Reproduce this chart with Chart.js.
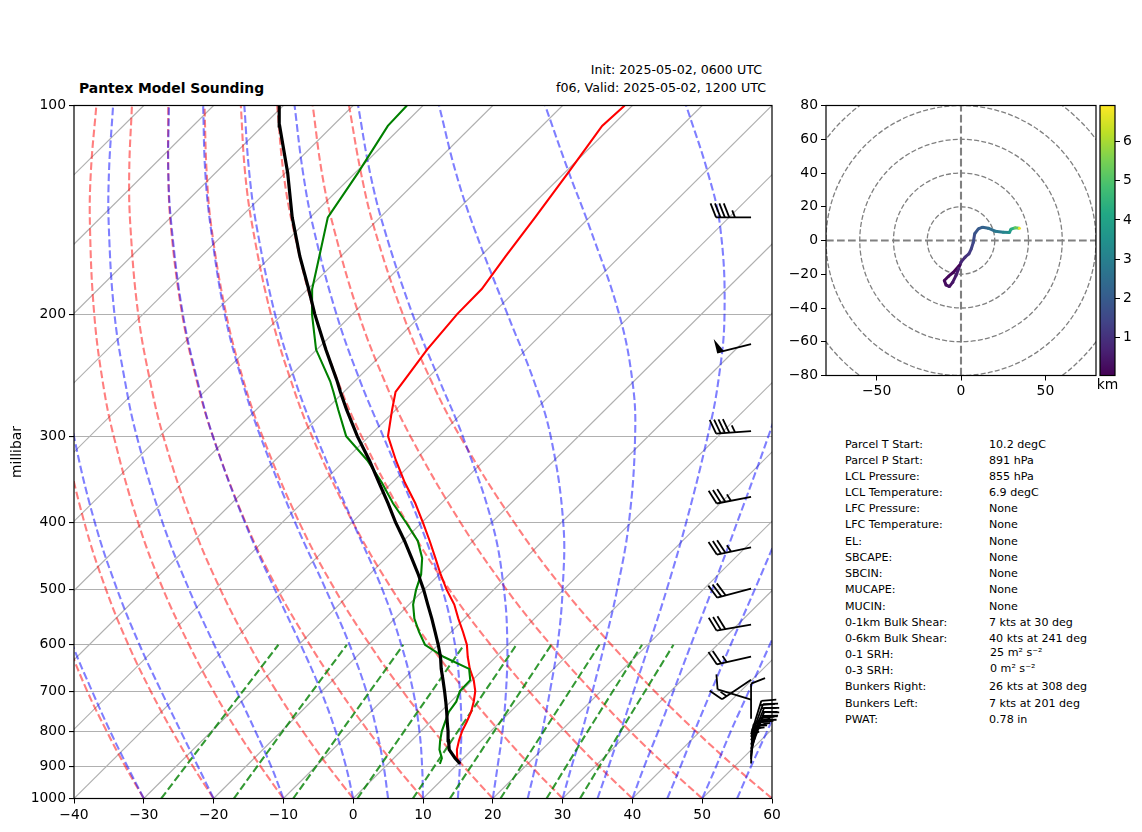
<!DOCTYPE html>
<html>
<head>
<meta charset="utf-8">
<script src="https://cdn.jsdelivr.net/npm/chart.js@4"></script>
<style>
    body { margin: 0; background: #fff; font-family: "DejaVu Sans"; color: #000; width: 1142px; height: 832px; overflow: hidden; position: relative; }
    .box { position: absolute; }
    .txt { position: absolute; white-space: nowrap; line-height: 14px; }
    .stat { font-size: 11.1px; }
</style>
</head>
<body>
<div class="txt" style="left:79px;top:81px;font-size:13.9px;font-weight:bold">Pantex Model Sounding</div>
<div class="txt" style="right:380px;top:63px;font-size:12.65px">Init: 2025-05-02, 0600 UTC</div>
<div class="txt" style="right:376px;top:81px;font-size:12.65px">f06, Valid: 2025-05-02, 1200 UTC</div>
<div class="box" style="left:0;top:0"><canvas id="skew" width="790" height="832"></canvas></div>
<div class="box" style="left:780px;top:0"><canvas id="hodo" width="320" height="410"></canvas></div>
<div class="box" style="left:1085px;top:0"><canvas id="cbar" width="57" height="410"></canvas></div>
<div id="stats"></div>

<script>
// sounding
const pressure = [891,875,850,825,800,775,750,725,700,675,650,625,600,575,550,525,500,475,450,425,400,375,350,325,300,275,259,250,225,200,184,165,145,125,107,100];
const temperature = [10.3,9.1,7.8,6.8,5.9,5.2,4.4,3.3,2.0,0.2,-2.0,-4.0,-5.9,-8.3,-10.9,-13.5,-16.7,-19.8,-22.9,-26.2,-29.8,-33.7,-38.2,-42.7,-47.3,-50.5,-52.6,-53.0,-54.2,-55.0,-55.1,-56.4,-57.8,-59.5,-61.4,-61.1];
const dewpoint = [7.4,6.9,5.3,4.1,3.0,2.1,1.2,0.8,-0.2,-0.3,-2.1,-7.4,-11.9,-14.6,-17.2,-19.4,-21.1,-22.6,-24.8,-27.9,-32.2,-36.9,-41.5,-46.8,-53.3,-58.2,-61.5,-63.5,-70.1,-75.8,-79.4,-83.1,-87.5,-89.6,-92.1,-92.3];
const parcel = [10.3,8.8,6.7,5.3,3.9,2.4,0.9,-0.7,-2.4,-4.2,-6.1,-7.9,-10.0,-12.3,-14.7,-17.3,-20.0,-23.0,-26.3,-29.8,-33.7,-37.6,-41.9,-46.5,-51.7,-57.0,-60.5,-62.5,-68.7,-75.4,-79.9,-85.9,-92.6,-99.7,-107.6,-110.6];

// wind barbs
const windPressure = [145,221,295,367,434,498,561,624,674,720,767,808,815,824,836,848,858,870,878,890];
const windSpeed = [45,50,45,35,35,30,30,25,15,10,10,20,20,20,25,25,25,20,15,15];
const windDir = [270,256,266,259,258,255,260,257,236,287,360,17,20,22,22,20,14,8,4,2];
const barbColumn = 57;

// background curves
const curveLevels = [1000,900,800,700,600,500,400,300,250,200,150,125,100];
const dryAdiabats = [
    [-30.0,-37.2,-45.0,-53.6,-63.0,-73.7,-86.0,-100.8,-109.5,-119.6,-131.7,-138.9,-147.2],
    [-20.0,-27.5,-35.6,-44.5,-54.4,-65.5,-78.3,-93.7,-102.8,-113.3,-125.9,-133.4,-142.0],
    [-10.0,-17.8,-26.3,-35.5,-45.7,-57.3,-70.6,-86.6,-96.1,-107.0,-120.1,-127.9,-136.8],
    [0.0,-8.1,-16.9,-26.5,-37.1,-49.1,-62.9,-79.5,-89.3,-100.7,-114.3,-122.4,-131.7],
    [10.0,1.6,-7.5,-17.4,-28.4,-40.9,-55.2,-72.4,-82.6,-94.4,-108.5,-116.8,-126.5],
    [20.0,11.3,1.9,-8.4,-19.8,-32.7,-47.5,-65.3,-75.9,-88.1,-102.7,-111.3,-121.3],
    [30.0,21.0,11.3,0.6,-11.2,-24.5,-39.8,-58.2,-69.1,-81.7,-96.8,-105.8,-116.1],
    [40.0,30.7,20.7,9.7,-2.5,-16.3,-32.1,-51.1,-62.4,-75.4,-91.0,-100.3,-110.9],
    [50.0,40.4,30.0,18.7,6.1,-8.1,-24.4,-44.1,-55.7,-69.1,-85.2,-94.8,-105.8],
    [60.0,50.1,39.4,27.7,14.8,0.1,-16.7,-37.0,-49.0,-62.8,-79.4,-89.2,-100.6]
];
const moistAdiabats = [
    [-30.0,-36.9,-44.5,-52.9,-62.4,-73.0,-85.4,-100.2,-109.0,-119.1,-131.3,-138.5,-146.8],
    [-20.0,-26.8,-34.4,-43.0,-52.8,-63.9,-76.8,-92.3,-101.4,-112.0,-124.7,-132.3,-141.0],
    [-10.0,-16.3,-23.7,-32.2,-42.1,-53.6,-67.1,-83.3,-92.9,-104.1,-117.4,-125.3,-134.4],
    [0.0,-5.6,-12.2,-20.1,-29.7,-41.3,-55.3,-72.4,-82.5,-94.3,-108.4,-116.8,-126.4],
    [5.0,-0.2,-6.3,-13.6,-22.7,-34.0,-48.1,-65.6,-76.1,-88.3,-102.8,-111.5,-121.5],
    [10.0,5.3,-0.2,-6.9,-15.3,-25.9,-39.8,-57.6,-68.5,-81.1,-96.2,-105.2,-115.6],
    [15.0,10.7,5.8,-0.2,-7.6,-17.3,-30.3,-48.0,-59.2,-72.3,-88.1,-97.5,-108.4],
    [20.0,16.1,11.7,6.4,-0.1,-8.5,-19.9,-36.6,-47.8,-61.4,-78.0,-87.9,-99.3],
    [25.0,21.5,17.4,12.7,7.1,-0.1,-9.7,-24.0,-34.3,-47.8,-65.1,-75.6,-87.7],
    [30.0,26.7,23.1,18.8,13.8,7.7,-0.3,-11.9,-20.2,-31.8,-48.5,-59.4,-72.5],
    [35.0,32.0,28.6,24.7,20.2,14.8,7.9,-1.5,-7.9,-16.7,-29.8,-39.5,-52.3],
    [40.0,37.1,34.0,30.4,26.2,21.3,15.2,7.2,1.9,-4.8,-14.2,-20.9,-30.2],
    [45.0,42.3,39.2,35.8,31.9,27.4,21.8,14.6,10.1,4.5,-3.0,-7.9,-14.3],
    [50.0,47.4,44.4,41.2,37.5,33.1,27.9,21.2,17.1,12.0,5.6,1.4,-3.6],
    [55.0,52.4,49.6,46.4,42.8,38.6,33.6,27.3,23.4,18.6,12.7,8.9,4.4],
    [60.0,57.5,54.7,51.6,48.0,43.9,39.0,32.9,29.1,24.6,18.9,15.3,11.1]
];
const mixingLevels = [1000,800,600];
const mixingLines = [
    [-27.5,-29.9,-32.9],
    [-17.1,-19.8,-23.1],
    [-8.6,-11.4,-15.0],
    [0.6,-2.4,-6.3],
    [8.55,5.3,1.2],
    [13.85,10.5,6.2],
    [21.1,17.6,13.1],
    [27.7,23.9,19.2],
    [32.5,28.6,23.7]
];
const isotherms = [-140,-130,-120,-110,-100,-90,-80,-70,-60,-50,-40,-30,-20,-10,0,10,20,30,40,50,60];
const pressureTicks = [100,200,300,400,500,600,700,800,900,1000];

// hodograph
const hodoU = [-1,-4.5,-7.5,-9.9,-8.9,-6.9,-4.9,-3,-1.4,0,2.4,4.7,6.1,7.3,8.1,10.3,12.8,16.2,20.2,25.1,28.7,29.6,32,34.6];
const hodoV = [-14.8,-18.8,-21.3,-23.7,-26.3,-27.3,-24.7,-20.8,-16.8,-12.8,-9.9,-7.9,-4.9,-1,4,6.9,7.9,7.3,5.5,4.9,4.7,6.7,7.5,7.3];
const hodoZ = [0.05,0.1,0.15,0.2,0.3,0.35,0.45,0.55,0.65,0.8,1,1.2,1.4,1.6,1.8,2,2.2,2.5,2.8,3.2,3.6,4.3,5.2,6.8];
const hodoRings = [20,40,60,80,100];
const hodoXTicks = [-50,0,50];
const hodoYTicks = [-80,-60,-40,-20,0,20,40,60,80];
const heightRange = [0.03,6.92];
const heightTicks = [1,2,3,4,5,6];
const viridis = ['#440154','#482475','#414487','#355f8d','#2a788e','#21918c','#22a884','#44bf70','#7ad151','#bddf26','#fde725'];

// stats table
const statNames = ['Parcel T Start:','Parcel P Start:','LCL Pressure:','LCL Temperature:','LFC Pressure:','LFC Temperature:','EL:','SBCAPE:','SBCIN:','MUCAPE:','MUCIN:','0-1km Bulk Shear:','0-6km Bulk Shear:','0-1 SRH:','0-3 SRH:','Bunkers Right:','Bunkers Left:','PWAT:'];
const statValues = ['10.2 degC','891 hPa','855 hPa','6.9 degC','None','None','None','None','None','None','None','7 kts at 30 deg','40 kts at 241 deg','25 m² s⁻²','0 m² s⁻²','26 kts at 308 deg','7 kts at 201 deg','0.78 in'];
const statRows = [445,461,477,493,509,525,542,558,574,590,607,623,639,655,671,687,704,720];

Chart.defaults.font.family = '"DejaVu Sans"';
Chart.defaults.font.size = 13.9;
Chart.defaults.color = '#000';
Chart.defaults.animation = false;

const minus = v => String(v).replace('-', '\u2212');

// the skew: an isotherm goes 100 degrees to the right per decade of pressure
function skew(t, p) {
    return { x: t + 100 * Math.log10(1000 / p), y: p };
}

function curve(temps, levels, color, width, dash, order, tension) {
    return {
        data: temps.map((t, i) => skew(t, levels[i])),
        showLine: true,
        pointRadius: 0,
        borderColor: color,
        borderWidth: width,
        borderDash: dash || [],
        tension: tension || 0,
        capBezierPoints: false,
        order: order
    };
}

const spines = {
    id: 'spines',
    afterDatasetsDraw(chart) {
        const a = chart.chartArea;
        const ctx = chart.ctx;
        ctx.save();
        ctx.strokeStyle = '#000';
        ctx.lineWidth = 1.2;
        ctx.strokeRect(a.left, a.top, a.right - a.left, a.bottom - a.top);
        ctx.restore();
    }
};

function drawBarb(ctx, x, y, speed, dir) {
    const L = 35, H = 14, slant = 5.5, gap = 4.4, flagW = 7;
    const rad = dir * Math.PI / 180;
    const sx = Math.sin(rad), sy = -Math.cos(rad);
    const nx = -sy, ny = sx;
    const tipX = x + sx * L, tipY = y + sy * L;
    ctx.beginPath();
    ctx.moveTo(x, y);
    ctx.lineTo(tipX, tipY);
    ctx.stroke();

    let left = Math.round(speed / 5) * 5;
    let pos = 0;
    while (left >= 50) {
        const ax = tipX - sx * pos, ay = tipY - sy * pos;
        ctx.beginPath();
        ctx.moveTo(ax, ay);
        ctx.lineTo(ax + nx * H, ay + ny * H);
        ctx.lineTo(ax - sx * flagW, ay - sy * flagW);
        ctx.closePath();
        ctx.fill();
        pos += flagW + gap;
        left -= 50;
    }
    while (left >= 10) {
        const ax = tipX - sx * pos, ay = tipY - sy * pos;
        ctx.beginPath();
        ctx.moveTo(ax, ay);
        ctx.lineTo(ax + nx * H + sx * slant, ay + ny * H + sy * slant);
        ctx.stroke();
        pos += gap;
        left -= 10;
    }
    if (left >= 5) {
        if (pos > 0) pos += 1.3;
        const ax = tipX - sx * pos, ay = tipY - sy * pos;
        ctx.beginPath();
        ctx.moveTo(ax, ay);
        ctx.lineTo(ax + nx * H / 2 + sx * slant / 2, ay + ny * H / 2 + sy * slant / 2);
        ctx.stroke();
    }
}

const barbs = {
    id: 'barbs',
    afterDatasetsDraw(chart) {
        const ctx = chart.ctx;
        ctx.save();
        ctx.strokeStyle = '#000';
        ctx.fillStyle = '#000';
        ctx.lineWidth = 1.8;
        windPressure.forEach((p, i) => {
            drawBarb(ctx, chart.scales.x.getPixelForValue(barbColumn), chart.scales.y.getPixelForValue(p), windSpeed[i], windDir[i]);
        });
        ctx.restore();
    }
};

const datasets = [];
isotherms.forEach(t => datasets.push(curve([t, t], [1000, 100], '#b0b0b0', 1.1, null, 50)));
dryAdiabats.forEach(c => datasets.push(curve(c, curveLevels, 'rgba(255,0,0,0.5)', 2.1, [7.7, 3.3], 40, 0.4)));
moistAdiabats.forEach(c => datasets.push(curve(c, curveLevels, 'rgba(0,0,255,0.5)', 2.1, [7.7, 3.3], 30, 0.4)));
mixingLines.forEach(c => datasets.push(curve(c, mixingLevels, 'rgba(0,128,0,0.8)', 2.1, [7.7, 3.3], 20)));
datasets.push(curve(temperature, pressure, '#ff0000', 2.1, null, 3));
datasets.push(curve(dewpoint, pressure, '#008000', 2.1, null, 2));
datasets.push(curve(parcel, pressure, '#000000', 3.2, null, 1));

new Chart(document.getElementById('skew'), {
    type: 'scatter',
    data: { datasets: datasets },
    options: {
        responsive: false,
        devicePixelRatio: 1,
        layout: { padding: { left: 0, top: 105.5, right: 18, bottom: 0 } },
        plugins: { legend: { display: false }, tooltip: { enabled: false } },
        scales: {
            x: {
                type: 'linear',
                min: -40,
                max: 60,
                afterFit: s => { s.height = 33.5; },
                border: { display: false },
                grid: { drawOnChartArea: false, tickLength: 5, tickColor: '#000' },
                ticks: { stepSize: 10, padding: 3.5, maxRotation: 0, callback: minus }
            },
            y: {
                type: 'logarithmic',
                reverse: true,
                min: 100,
                max: 1000,
                afterFit: s => { s.width = 74; },
                afterBuildTicks: s => { s.ticks = pressureTicks.map(v => ({ value: v })); },
                border: { display: false },
                grid: { color: '#b0b0b0', lineWidth: 1.1, tickLength: 5, tickColor: '#000' },
                ticks: { padding: 3, callback: v => String(v) },
                title: { display: true, text: 'millibar', padding: { top: 9, bottom: 0 }, font: { size: 13.9 } }
            }
        }
    },
    plugins: [spines, barbs]
});

function viridisAt(z) {
    const f = Math.min(1, Math.max(0, (z - heightRange[0]) / (heightRange[1] - heightRange[0]))) * (viridis.length - 1);
    const i = Math.min(viridis.length - 2, Math.floor(f));
    const hex = h => [1, 3, 5].map(k => parseInt(h.substr(k, 2), 16));
    const a = hex(viridis[i]), b = hex(viridis[i + 1]);
    const c = a.map((v, k) => Math.round(v + (b[k] - v) * (f - i)));
    return 'rgb(' + c.join(',') + ')';
}

const rings = {
    id: 'rings',
    beforeDatasetsDraw(chart) {
        const a = chart.chartArea;
        const ctx = chart.ctx;
        const cx = chart.scales.x.getPixelForValue(0), cy = chart.scales.y.getPixelForValue(0);
        ctx.save();
        ctx.beginPath();
        ctx.rect(a.left, a.top, a.right - a.left, a.bottom - a.top);
        ctx.clip();
        ctx.strokeStyle = '#808080';
        ctx.lineWidth = 1.3;
        ctx.setLineDash([5, 2.2]);
        hodoRings.forEach(r => {
            ctx.beginPath();
            ctx.arc(cx, cy, chart.scales.x.getPixelForValue(r) - cx, 0, Math.PI * 2);
            ctx.stroke();
        });
        ctx.restore();
    }
};

new Chart(document.getElementById('hodo'), {
    type: 'scatter',
    data: {
        datasets: [
            {
                data: hodoU.map((u, i) => ({ x: u, y: hodoV[i] })),
                showLine: true,
                borderWidth: 3,
                borderColor: viridis[0],
                segment: { borderColor: c => viridisAt(hodoZ[c.p0DataIndex]) },
                pointRadius: 1.5,
                pointBorderWidth: 0,
                pointBackgroundColor: c => viridisAt(hodoZ[c.dataIndex]),
                order: 1
            },
            { data: [{ x: -80, y: 0 }, { x: 80, y: 0 }], showLine: true, pointRadius: 0, borderColor: '#808080', borderWidth: 2.1, borderDash: [7.7, 3.3], order: 2 },
            { data: [{ x: 0, y: -80 }, { x: 0, y: 80 }], showLine: true, pointRadius: 0, borderColor: '#808080', borderWidth: 2.1, borderDash: [7.7, 3.3], order: 2 }
        ]
    },
    options: {
        responsive: false,
        devicePixelRatio: 1,
        layout: { padding: { left: 0, top: 105.5, right: 4, bottom: 0 } },
        plugins: { legend: { display: false }, tooltip: { enabled: false } },
        scales: {
            x: {
                type: 'linear',
                min: -80,
                max: 80,
                afterFit: s => { s.height = 34.5; },
                afterBuildTicks: s => { s.ticks = hodoXTicks.map(v => ({ value: v })); },
                border: { display: false },
                grid: { drawOnChartArea: false, tickLength: 5, tickColor: '#000' },
                ticks: { padding: 3, maxRotation: 0, callback: minus }
            },
            y: {
                type: 'linear',
                min: -80,
                max: 80,
                afterFit: s => { s.width = 46; },
                afterBuildTicks: s => { s.ticks = hodoYTicks.map(v => ({ value: v })); },
                border: { display: false },
                grid: { drawOnChartArea: false, tickLength: 5, tickColor: '#000' },
                ticks: { padding: 3, callback: minus }
            }
        }
    },
    plugins: [rings, spines]
});

new Chart(document.getElementById('cbar'), {
    type: 'bar',
    data: {
        labels: ['km'],
        datasets: [{
            data: [heightRange],
            barPercentage: 1,
            categoryPercentage: 1,
            backgroundColor: c => {
                const a = c.chart.chartArea;
                if (!a) return viridis[0];
                const g = c.chart.ctx.createLinearGradient(0, a.bottom, 0, a.top);
                viridis.forEach((col, i) => g.addColorStop(i / (viridis.length - 1), col));
                return g;
            }
        }]
    },
    options: {
        responsive: false,
        devicePixelRatio: 1,
        layout: { padding: { left: 15, top: 105.5, right: 0, bottom: 0 } },
        plugins: { legend: { display: false }, tooltip: { enabled: false } },
        scales: {
            x: {
                afterFit: s => { s.height = 34.5; },
                border: { display: false },
                grid: { display: false },
                ticks: { padding: -6, maxRotation: 0 }
            },
            y: {
                position: 'right',
                min: heightRange[0],
                max: heightRange[1],
                afterFit: s => { s.width = 27; },
                afterBuildTicks: s => { s.ticks = heightTicks.map(v => ({ value: v })); },
                border: { display: false },
                grid: { drawOnChartArea: false, tickLength: 5, tickColor: '#000' },
                ticks: { padding: 3 }
            }
        }
    },
    plugins: [spines]
});

const stats = document.getElementById('stats');
statNames.forEach((name, i) => {
    const srh = statValues[i].includes('m²');
    stats.insertAdjacentHTML('beforeend',
        '<div class="txt stat" style="left:845px;top:' + (statRows[i] - 7) + 'px">' + name + '</div>' +
        '<div class="txt stat" style="left:' + (srh ? 990 : 989) + 'px;top:' + (statRows[i] - 7 - (srh ? 2 : 0)) + 'px">' + statValues[i] + '</div>');
});
</script>
</body>
</html>
